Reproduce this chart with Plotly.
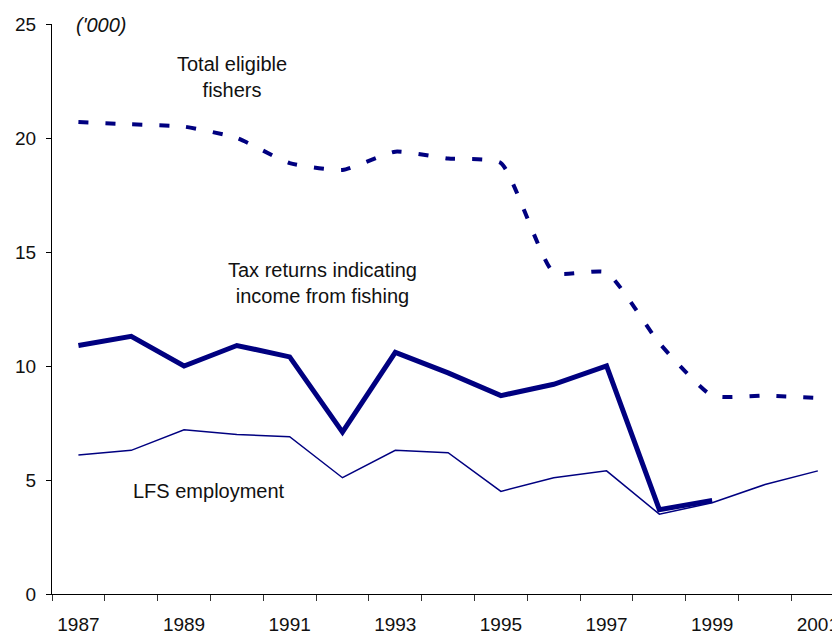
import plotly.graph_objects as go

years = list(range(1987, 2002))
total_eligible = [20.7, 20.6, 20.5, 20.0, 18.9, 18.6, 19.4, 19.1, 18.9, 14.1, 14.1, 11.0, 8.7, 8.7, 8.6]
tax_years = list(range(1987, 2000))
tax_returns = [10.9, 11.3, 10.0, 10.9, 10.4, 7.1, 10.6, 9.7, 8.7, 9.2, 10.0, 3.7, 4.1]
lfs_employment = [6.1, 6.3, 7.2, 7.0, 6.9, 5.1, 6.3, 6.2, 4.5, 5.1, 5.4, 3.5, 4.0, 4.8, 5.4]
label_years = list(range(1987, 2002, 2))

navy = "#000080"
font_family = "Liberation Sans, Arial, sans-serif"

fig = go.Figure()
fig.add_trace(go.Scatter(
    x=years, y=total_eligible, mode="lines", name="Total eligible fishers",
    line=dict(color=navy, width=4, dash="10px,17px", shape="spline", smoothing=0.5),
))
fig.add_trace(go.Scatter(
    x=tax_years, y=tax_returns, mode="lines", name="Tax returns indicating income from fishing",
    line=dict(color=navy, width=5),
))
fig.add_trace(go.Scatter(
    x=years, y=lfs_employment, mode="lines", name="LFS employment",
    line=dict(color=navy, width=1.5),
))

text_style = dict(family=font_family, size=20, color="#111111")
fig.add_annotation(x=1989.9, y=22.66, text="Total eligible<br>fishers", showarrow=False,
                   font=text_style, xanchor="center", yanchor="middle")
fig.add_annotation(x=1991.62, y=13.64, text="Tax returns indicating<br>income from fishing", showarrow=False,
                   font=text_style, xanchor="center", yanchor="middle")
fig.add_annotation(x=1989.48, y=4.51, text="LFS employment", showarrow=False,
                   font=text_style, xanchor="center", yanchor="middle")
fig.add_annotation(x=1986.92, y=24.95, text="<i>('000)</i>", showarrow=False,
                   font=text_style, xanchor="left", yanchor="middle")

# page body has an 8px margin, so the figure is sized to fit the window from (8, 8)
fig.update_layout(
    width=832, height=627,
    margin=dict(l=44, r=0, t=16, b=38),
    paper_bgcolor="white", plot_bgcolor="white",
    showlegend=False,
    font=dict(family=font_family, size=19, color="#111111"),
)
fig.update_xaxes(
    range=[1986.5, 2001.42],
    tickmode="array", tickvals=label_years, ticktext=[str(y) for y in label_years],
    ticks="", ticklabelstandoff=13,
    showgrid=False, zeroline=False,
    showline=True, linecolor="black", linewidth=1,
    minor=dict(tickmode="array", tickvals=[y - 0.5 for y in range(1987, 2003)],
               ticks="outside", ticklen=6, tickcolor="#333333", tickwidth=1, showgrid=False),
)
fig.update_yaxes(
    range=[0, 25], tickmode="array", tickvals=[0, 5, 10, 15, 20, 25],
    ticks="outside", ticklen=5, tickcolor="black", ticklabelstandoff=6,
    showgrid=False, zeroline=False,
    showline=True, linecolor="black", linewidth=1,
)

fig.write_html("out.html")
